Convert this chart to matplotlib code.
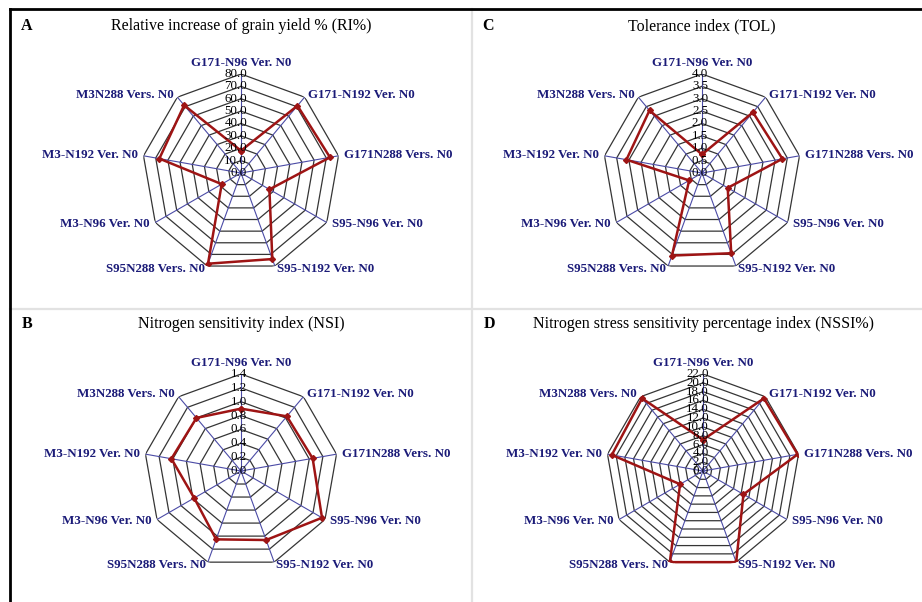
import numpy as np
import matplotlib.pyplot as plt
from matplotlib.lines import Line2D

categories = ["G171-N96 Ver. N0", "G171-N192 Ver. N0", "G171N288 Vers. N0",
              "S95-N96 Ver. N0", "S95-N192 Ver. N0", "S95N288 Vers. N0",
              "M3-N96 Ver. N0", "M3-N192 Ver. N0", "M3N288 Vers. N0"]

ri = [18.0, 71.0, 73.0, 26.5, 74.0, 78.0, 18.0, 67.0, 71.5]
tol = [0.75, 3.2, 3.3, 1.2, 3.45, 3.55, 0.6, 3.1, 3.3]
nsi = [0.90, 1.03, 1.05, 1.35, 1.06, 1.05, 0.78, 1.02, 1.00]
nssi = [7.1, 21.5, 21.8, 10.6, 22.0, 22.0, 6.0, 21.0, 21.5]

plt.rcParams['font.family'] = ['Liberation Serif', 'DejaVu Serif']

W, H = 922, 602
fig = plt.figure(figsize=(W / 100, H / 100), dpi=100)

RING = '#353535'
SPOKE = '#4b4ba6'
LINE = '#9e1414'
NAVY = '#1b1b78'
PX = 0.72  # points per pixel at dpi 100


def radar(cx, cy, rad, values, rmax, step, title, letter):
    ax = fig.add_axes([(cx - rad) / W, 1 - (cy + rad) / H, 2 * rad / W, 2 * rad / H],
                      projection='polar')
    ax.set_theta_zero_location('N')
    ax.set_theta_direction(-1)
    ax.set_ylim(0, rmax)
    ax.grid(False)
    ax.set_xticks([])
    ax.set_yticks([])
    ax.spines['polar'].set_visible(False)
    ax.patch.set_alpha(0)

    n = len(categories)
    ang = np.linspace(0, 2 * np.pi, n, endpoint=False)
    closed = np.append(ang, ang[0])
    levels = np.arange(0, rmax + step / 2, step)

    # polygon rings
    for lv in levels[1:]:
        ax.plot(closed, [lv] * (n + 1), color=RING, lw=0.9, zorder=2)
    # spokes
    for a in ang:
        ax.plot([a, a], [0, rmax], color=SPOKE, lw=0.8, zorder=3)

    # series
    vals = np.append(values, values[0])
    ax.plot(closed, vals, color=LINE, lw=1.8, marker='D', ms=3, zorder=5)

    # value labels up the top spoke
    for lv in levels:
        ax.annotate(f'{lv:.1f}', xy=(0, lv), xytext=(6 * PX, 0), textcoords='offset points',
                    ha='right', va='center', fontsize=9.3, color='black', zorder=6)

    # category labels
    for a, name in zip(ang, categories):
        s, c = np.sin(a), np.cos(a)
        if abs(s) < 0.1:
            ha, dx, dy = 'center', 0, 11
        else:
            ha = 'left' if s > 0 else 'right'
            dx, dy = 6 * s, 3 * c
        ax.annotate(name, xy=(a, rmax), xytext=(dx * PX, dy * PX), textcoords='offset points',
                    ha=ha, va='center', fontsize=9.4, fontweight='bold', color=NAVY,
                    annotation_clip=False)

    fig.text(cx / W, 1 - (cy - 147) / H, title, ha='center', va='center', fontsize=11.5)
    fig.text((cx - 214) / W, 1 - (cy - 147) / H, letter, ha='center', va='center',
             fontsize=11.5, fontweight='bold')


radar(241, 173, 99, ri, 80, 10, 'Relative increase of grain yield % (RI%)', 'A')
radar(702, 173, 99, tol, 4.0, 0.5, 'Tolerance index (TOL)', 'C')
radar(241, 471, 97, nsi, 1.4, 0.2, 'Nitrogen sensitivity index (NSI)', 'B')
radar(703, 471, 97, nssi, 22.0, 2.0, 'Nitrogen stress sensitivity percentage index (NSSI%)', 'D')

# panel dividers and outer frame
fig.add_artist(Line2D([472 / W, 472 / W], [0, 1 - 9 / H], color='#e2e2e2', lw=1.6))
fig.add_artist(Line2D([10 / W, 1], [1 - 309 / H, 1 - 309 / H], color='#e2e2e2', lw=1.6))
fig.add_artist(Line2D([10 / W, 1], [1 - 9 / H, 1 - 9 / H], color='black', lw=2))
fig.add_artist(Line2D([10 / W, 10 / W], [0, 1 - 9 / H], color='black', lw=2))

fig.savefig('out.png', dpi=100, facecolor='white')
